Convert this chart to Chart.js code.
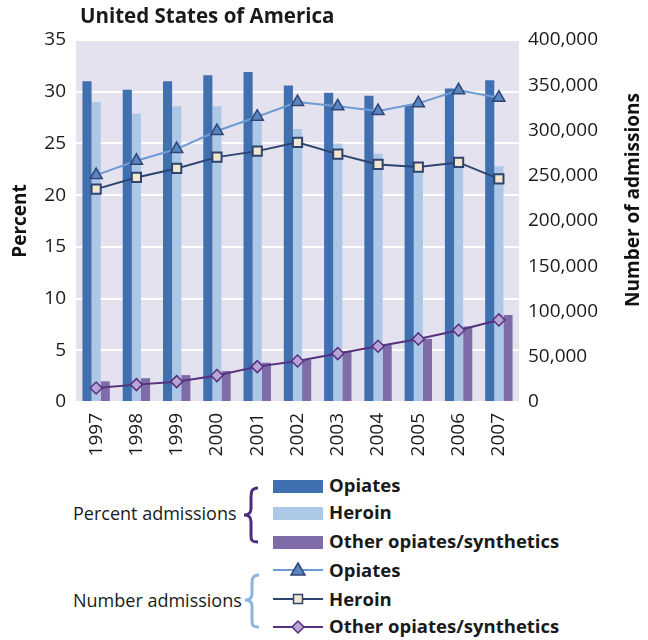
<!DOCTYPE html>
<html>
<head>
<meta charset="utf-8">
<script src="https://cdn.jsdelivr.net/npm/chart.js@4.4.1/dist/chart.umd.min.js"></script>
<style>
    body { margin: 0; background: #fff; font-family: "Open Sans", sans-serif; color: #1a1a1a; }
    #wrap { position: relative; width: 648px; height: 640px; overflow: hidden; }
    #title { position: absolute; left: 80px; top: 1px; font-weight: bold; font-size: 20.5px; }
    #rightTitle {
        position: absolute; left: 482px; top: 188px; width: 300px; height: 24px; line-height: 24px;
        text-align: center; font-weight: bold; font-size: 19px; color: #111; transform: rotate(-90deg);
    }
    #chartUSA { position: absolute; left: 0; top: 0; }
    #legend { position: absolute; left: 0; top: 470px; }
</style>
</head>
<body>
<div id="wrap">
    <canvas id="chartUSA" width="648" height="470"></canvas>
    <div id="title">United States of America</div>
    <div id="rightTitle">Number of admissions</div>
    <svg id="legend" width="648" height="170" font-family="Open Sans, sans-serif" fill="#1a1a1a">
        <!-- percent admissions (bars) -->
        <text x="73" y="50" font-size="18">Percent admissions</text>
        <path d="M258,18 C251,18 251,22 251,30 L251,38 C251,43 249,45 244,45 C249,45 251,47 251,52 L251,64 C251,70 251,72 258,72" fill="none" stroke="#4B2C7C" stroke-width="3"/>
        <rect x="273" y="10" width="50" height="13" fill="#4170B0"/>
        <text x="329" y="21.5" font-size="18.5" font-weight="bold">Opiates</text>
        <rect x="273" y="37" width="50" height="13" fill="#ADC8E6"/>
        <text x="329" y="49" font-size="18.5" font-weight="bold">Heroin</text>
        <rect x="273" y="66" width="50" height="13" fill="#7E6BA7"/>
        <text x="329" y="77.5" font-size="18.5" font-weight="bold">Other opiates/synthetics</text>

        <!-- number admissions (lines) -->
        <text x="73" y="137" font-size="18">Number admissions</text>
        <path d="M259,105 C252,105 252,109 252,116 L252,124 C252,128 250,130 245,130 C250,130 252,132 252,136 L252,150 C252,155 252,157 259,157" fill="none" stroke="#8CB4E0" stroke-width="3"/>
        <line x1="273" y1="100" x2="323" y2="100" stroke="#6E9BD3" stroke-width="2"/>
        <path d="M298,93 L305,105 L291,105 Z" fill="#5A86C0" stroke="#2D4677" stroke-width="1.5"/>
        <text x="329" y="106.5" font-size="18.5" font-weight="bold">Opiates</text>
        <line x1="273" y1="129" x2="323" y2="129" stroke="#2C446F" stroke-width="2"/>
        <rect x="293.5" y="124.5" width="9" height="9" fill="#F1E7CF" stroke="#2C446F" stroke-width="1.5"/>
        <text x="329" y="136" font-size="18.5" font-weight="bold">Heroin</text>
        <line x1="273" y1="157" x2="323" y2="157" stroke="#56307F" stroke-width="2"/>
        <path d="M298,151 L304,157 L298,163 L292,157 Z" fill="#B8A5D5" stroke="#56307F" stroke-width="1.5"/>
        <text x="329" y="163" font-size="18.5" font-weight="bold">Other opiates/synthetics</text>
    </svg>
</div>
<script>
    // years on the x axis
    var years = ['1997', '1998', '1999', '2000', '2001', '2002', '2003', '2004', '2005', '2006', '2007'];

    // percent of admissions (left axis, bars)
    var pctOpiates = [31.0, 30.2, 31.0, 31.6, 31.9, 30.6, 29.9, 29.6, 28.7, 30.3, 31.1];
    var pctHeroin  = [29.0, 27.9, 28.6, 28.6, 28.0, 26.4, 25.0, 24.0, 22.9, 23.3, 22.8];
    var pctOther   = [2.0, 2.3, 2.6, 3.0, 3.8, 4.1, 4.9, 5.5, 6.1, 7.3, 8.4];

    // number of admissions (right axis, lines)
    var numOpiates = [250700, 266500, 279500, 299400, 315200, 331400, 326700, 321500, 330000, 344400, 336200];
    var numHeroin  = [235200, 248100, 258100, 270600, 277200, 286900, 273900, 262500, 259600, 264700, 246600];
    var numOther   = [15500, 19200, 22500, 29200, 39100, 45300, 53500, 61600, 69700, 79300, 90700];

    // axis ranges
    var percentMax = 35, percentStep = 5;
    var numberMax = 400000, numberStep = 50000;

    var plotBg = {
        id: 'plotBg',
        beforeDraw: function (chart) {
            var a = chart.chartArea, ctx = chart.ctx;
            ctx.save();
            ctx.fillStyle = '#E3E2EE';
            ctx.fillRect(a.left, a.top, a.right - a.left, a.bottom - a.top);
            ctx.restore();
        }
    };

    var tickFont = { family: 'Open Sans', size: 19 };
    var titleFont = { family: 'Open Sans', size: 19, weight: 'bold' };

    var ctx = document.getElementById('chartUSA').getContext('2d');

    var chart = new Chart(ctx, {
        type: 'bar',
        data: {
            labels: years,
            datasets: [
                { type: 'bar', label: 'Opiates', data: pctOpiates, backgroundColor: '#4170B0', yAxisID: 'y', order: 2 },
                { type: 'bar', label: 'Heroin', data: pctHeroin, backgroundColor: '#ADC8E6', yAxisID: 'y', order: 2 },
                { type: 'bar', label: 'Other opiates/synthetics', data: pctOther, backgroundColor: '#7E6BA7', yAxisID: 'y', order: 2 },
                {
                    type: 'line', label: 'Opiates', data: numOpiates, yAxisID: 'y1', order: 1,
                    borderColor: '#6E9BD3', borderWidth: 2,
                    pointStyle: 'triangle', pointRadius: 7, pointBackgroundColor: '#5A86C0',
                    pointBorderColor: '#2D4677', pointBorderWidth: 1.5
                },
                {
                    type: 'line', label: 'Heroin', data: numHeroin, yAxisID: 'y1', order: 1,
                    borderColor: '#2C446F', borderWidth: 2,
                    pointStyle: 'rect', pointRadius: 6.5, pointBackgroundColor: '#F1E7CF',
                    pointBorderColor: '#2C446F', pointBorderWidth: 2
                },
                {
                    type: 'line', label: 'Other opiates/synthetics', data: numOther, yAxisID: 'y1', order: 1,
                    borderColor: '#56307F', borderWidth: 2,
                    pointStyle: 'rectRot', pointRadius: 6, pointBackgroundColor: '#B8A5D5',
                    pointBorderColor: '#56307F', pointBorderWidth: 1.5
                }
            ]
        },
        options: {
            responsive: false,
            animation: false,
            layout: { padding: { top: 40, right: 0, left: 0, bottom: 0 } },
            plugins: {
                legend: { display: false },
                tooltip: { enabled: false }
            },
            datasets: {
                bar: { categoryPercentage: 0.68, barPercentage: 1.0 }
            },
            scales: {
                x: {
                    grid: { display: false, drawTicks: false },
                    border: { display: false },
                    ticks: { font: tickFont, color: '#1a1a1a', minRotation: 90, maxRotation: 90, padding: 11 },
                    afterFit: function (scale) { scale.height = 68; }
                },
                y: {
                    position: 'left',
                    min: 0, max: percentMax,
                    grid: { color: '#ffffff', lineWidth: 2, drawTicks: false },
                    border: { display: false },
                    ticks: { stepSize: percentStep, font: tickFont, color: '#1a1a1a', padding: 10 },
                    title: { display: true, text: 'Percent', font: titleFont, color: '#111', padding: { top: 9, bottom: 0 } },
                    afterFit: function (scale) { scale.width = 76; }
                },
                y1: {
                    position: 'right',
                    min: 0, max: numberMax,
                    grid: { display: false, drawTicks: false },
                    border: { display: false },
                    ticks: {
                        stepSize: numberStep, font: tickFont, color: '#1a1a1a', padding: 9,
                        callback: function (v) { return v.toLocaleString('en-US'); }
                    },
                    afterFit: function (scale) { scale.width = 129; }
                }
            }
        },
        plugins: [plotBg]
    });
</script>
</body>
</html>
